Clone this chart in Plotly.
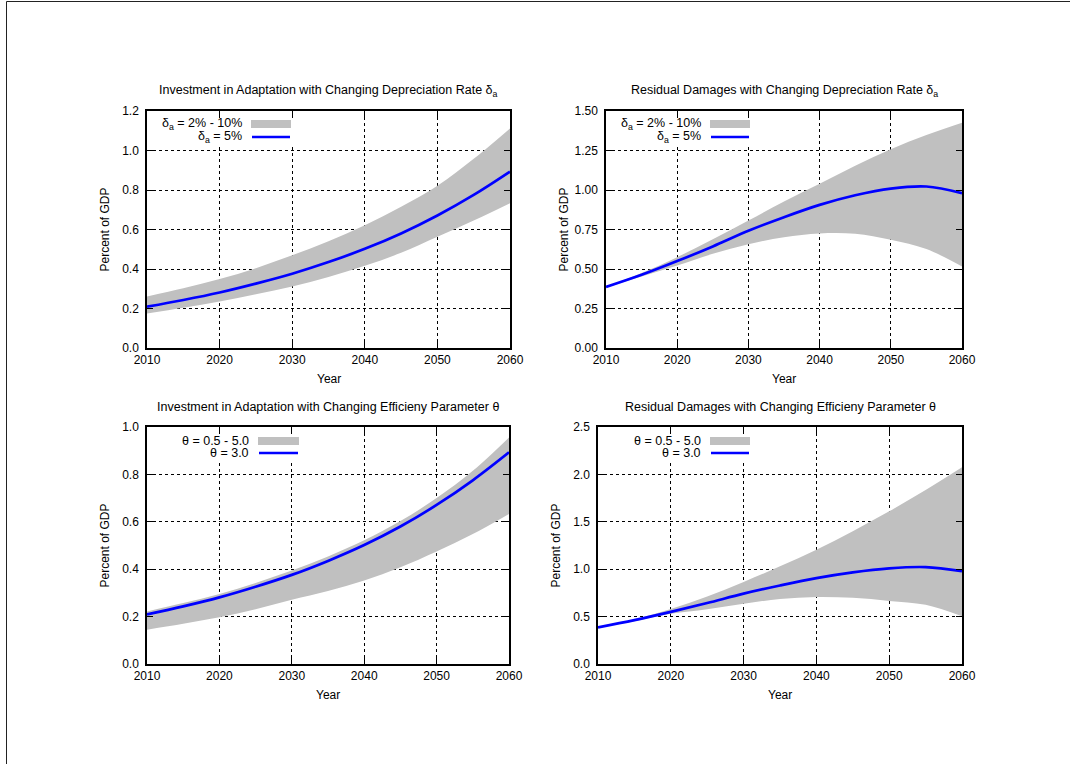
import plotly.graph_objects as go

W, H = 1070, 764

years = [2010, 2015, 2020, 2025, 2030, 2035, 2040, 2045, 2050, 2055, 2060]

# Investment in adaptation, baseline (delta_a = 5%, theta = 3.0)
inv_base = [0.209, 0.243, 0.281, 0.326, 0.376, 0.435, 0.502, 0.580, 0.671, 0.775, 0.893]
# Investment band, delta_a = 2% - 10%
inv_delta_hi = [0.261, 0.302, 0.349, 0.404, 0.469, 0.541, 0.622, 0.715, 0.821, 0.958, 1.112]
inv_delta_lo = [0.175, 0.204, 0.236, 0.272, 0.312, 0.360, 0.416, 0.482, 0.563, 0.645, 0.733]
# Investment band, theta = 0.5 - 5.0
inv_theta_hi = [0.222, 0.257, 0.295, 0.342, 0.394, 0.454, 0.522, 0.603, 0.700, 0.815, 0.956]
inv_theta_lo = [0.145, 0.170, 0.197, 0.231, 0.271, 0.308, 0.352, 0.408, 0.475, 0.548, 0.633]

# Residual damages, baseline
res_base = [0.386, 0.463, 0.550, 0.643, 0.742, 0.828, 0.906, 0.967, 1.009, 1.022, 0.980]
# Residual band, delta_a = 2% - 10%
res_delta_hi = [0.386, 0.474, 0.575, 0.689, 0.807, 0.927, 1.039, 1.154, 1.258, 1.348, 1.426]
res_delta_lo = [0.386, 0.453, 0.522, 0.596, 0.657, 0.701, 0.725, 0.723, 0.685, 0.626, 0.516]
# Residual band, theta = 0.5 - 5.0
res_theta_hi = [0.387, 0.472, 0.580, 0.712, 0.865, 1.030, 1.206, 1.400, 1.610, 1.835, 2.075]
res_theta_lo = [0.387, 0.452, 0.530, 0.578, 0.635, 0.686, 0.707, 0.698, 0.665, 0.624, 0.503]

titles = [
    "Investment in Adaptation with Changing Depreciation Rate δ<sub>a</sub>",
    "Residual Damages with Changing Depreciation Rate δ<sub>a</sub>",
    "Investment in Adaptation with Changing Efficieny Parameter θ",
    "Residual Damages with Changing Efficieny Parameter θ",
]
band_labels = ["δ<sub>a</sub> = 2% - 10%", "δ<sub>a</sub> = 2% - 10%", "θ = 0.5 - 5.0", "θ = 0.5 - 5.0"]
line_labels = ["δ<sub>a</sub> = 5%", "δ<sub>a</sub> = 5%", "θ = 3.0", "θ = 3.0"]
y_ranges = [(0, 1.2), (0, 1.5), (0, 1.0), (0, 2.5)]
y_dticks = [0.2, 0.25, 0.2, 0.5]
y_formats = [".1f", ".2f", ".1f", ".1f"]

panels_data = [
    (inv_delta_lo, inv_delta_hi, inv_base),
    (res_delta_lo, res_delta_hi, res_base),
    (inv_theta_lo, inv_theta_hi, inv_base),
    (res_theta_lo, res_theta_hi, res_base),
]

# plot-area boxes in pixels: (left, right, top, bottom)
boxes = [
    (147, 510, 111, 348),
    (606, 962, 111, 348),
    (147, 509, 427, 664),
    (598, 962, 427, 664),
]
legend_text_x = [244, 703, 251, 703]
legend_sw = [(251, 291), (710, 750), (258, 299), (710, 750)]
legend_y = [(124, 137), (124, 137), (441, 453), (441, 453)]


def px(x):
    return x / W


def py(y):
    return 1 - y / H


FONT = "Liberation Sans, Arial, Helvetica, sans-serif"
GRAY = "#c0c0c0"
BLUE = "#0000ff"
TXT = 12.5

fig = go.Figure()
annotations = []
shapes = []

for i, (lo, hi, base) in enumerate(panels_data):
    n = "" if i == 0 else str(i + 1)
    xa, ya = "x" + n, "y" + n
    l, r, t, b = boxes[i]
    fig.add_trace(go.Scatter(x=years, y=lo, mode="lines", line=dict(width=0, color=GRAY, shape="spline"),
                             xaxis=xa, yaxis=ya, showlegend=False, hoverinfo="skip"))
    fig.add_trace(go.Scatter(x=years, y=hi, mode="lines", line=dict(width=0, color=GRAY, shape="spline"),
                             fill="tonexty", fillcolor=GRAY,
                             xaxis=xa, yaxis=ya, showlegend=False, hoverinfo="skip"))
    fig.add_trace(go.Scatter(x=years, y=base, mode="lines", line=dict(width=2.7, color=BLUE, shape="spline"),
                             xaxis=xa, yaxis=ya, showlegend=False))

    axis_common = dict(
        showline=True, linecolor="black", linewidth=1.5, mirror="ticks",
        ticks="inside", ticklen=6, tickwidth=1, tickcolor="black",
        showgrid=True, gridcolor="black", gridwidth=1, griddash="dot",
        zeroline=False, automargin=False, tickfont=dict(family=FONT, size=12, color="black"),
    )
    fig.update_layout(**{
        ("xaxis" + n): dict(domain=[px(l), px(r)], range=[2010, 2060], tick0=2010, dtick=10,
                            anchor=ya, **axis_common),
        ("yaxis" + n): dict(domain=[py(b), py(t)], range=list(y_ranges[i]), tick0=0, dtick=y_dticks[i],
                            tickformat=y_formats[i], anchor=xa, ticklabelstandoff=4, **axis_common),
    })

    cx = (l + r) / 2
    cy = (t + b) / 2
    annotations.append(dict(text=titles[i], x=px(cx), y=py(t - 20), xref="paper", yref="paper",
                            showarrow=False, xanchor="center", yanchor="middle",
                            font=dict(family=FONT, size=TXT, color="black")))
    annotations.append(dict(text="Year", x=px(cx), y=py(b + 31), xref="paper", yref="paper",
                            showarrow=False, xanchor="center", yanchor="middle",
                            font=dict(family=FONT, size=12, color="black")))
    annotations.append(dict(text="Percent of GDP", x=px(l - 43), y=py(cy), xref="paper", yref="paper",
                            showarrow=False, xanchor="center", yanchor="middle", textangle=-90,
                            font=dict(family=FONT, size=12, color="black")))
    y1, y2 = legend_y[i]
    annotations.append(dict(text=band_labels[i], x=px(legend_text_x[i]), y=py(y1), xref="paper", yref="paper",
                            showarrow=False, xanchor="right", yanchor="middle",
                            font=dict(family=FONT, size=TXT, color="black")))
    annotations.append(dict(text=line_labels[i], x=px(legend_text_x[i]), y=py(y2), xref="paper", yref="paper",
                            showarrow=False, xanchor="right", yanchor="middle",
                            font=dict(family=FONT, size=TXT, color="black")))
    s0, s1 = legend_sw[i]
    # opaque key box hiding the grid behind the key
    shapes.append(dict(type="rect", xref="paper", yref="paper", x0=px(l + 3), x1=px(s1 + 4),
                       y0=py(t + 35), y1=py(t + 7), fillcolor="white", line=dict(width=0),
                       layer="above"))
    shapes.append(dict(type="rect", xref="paper", yref="paper", x0=px(s0), x1=px(s1),
                       y0=py(y1 + 4), y1=py(y1 - 4), fillcolor=GRAY, line=dict(width=0)))
    shapes.append(dict(type="line", xref="paper", yref="paper", x0=px(s0 + 1), x1=px(s1 - 1),
                       y0=py(y2), y1=py(y2), line=dict(color=BLUE, width=2.7)))

# outer frame (left and top edges)
shapes.append(dict(type="line", xref="paper", yref="paper", x0=px(6.5), x1=px(6.5), y0=0, y1=py(1.5),
                   line=dict(color="#222222", width=1)))
shapes.append(dict(type="line", xref="paper", yref="paper", x0=px(6.5), x1=1, y0=py(1.5), y1=py(1.5),
                   line=dict(color="#222222", width=1)))

fig.update_layout(
    width=W, height=H,
    margin=dict(l=0, r=0, t=0, b=0, pad=0, autoexpand=False),
    paper_bgcolor="white", plot_bgcolor="white",
    annotations=annotations, shapes=shapes,
    showlegend=False,
    font=dict(family=FONT, size=12, color="black"),
)

fig.write_html(
    "out.html",
    config={"displayModeBar": False},
    post_script="document.body.style.margin='0px';document.body.style.overflow='hidden';",
)
